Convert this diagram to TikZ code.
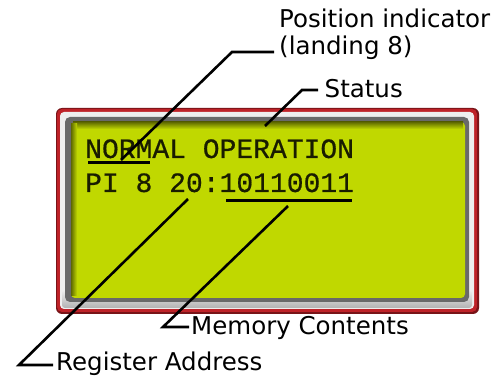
\documentclass[tikz,border=0pt]{standalone}
\usepackage{fontspec}
\setmainfont{DejaVu Sans}
\newfontfamily\lcdfont[FakeBold=0.6]{Liberation Mono}
\definecolor{framered}{RGB}{190,34,40}
\definecolor{framedark}{RGB}{120,20,24}
\definecolor{bevellight}{RGB}{238,238,238}
\definecolor{bevelgrey}{RGB}{105,105,105}
\definecolor{lcdgreen}{RGB}{192,216,0}
\definecolor{lcdolive}{RGB}{95,105,0}
\definecolor{lcdink}{RGB}{25,28,0}
\begin{document}
\begin{tikzpicture}[x=1pt,y=-1pt,
  lcdtext/.style={inner sep=0pt, anchor=base west, font=\lcdfont\fontsize{28}{28}\selectfont, text=lcdink},
  callout/.style={inner sep=0pt, anchor=base west, font=\fontsize{24.5}{27}\selectfont, text=black},
  leader/.style={line width=2.6pt, line join=miter, draw=black},
  uline/.style={line width=3pt, draw=black}]
\useasboundingbox (0,0) rectangle (499,377);
\fill[white] (0,0) rectangle (499,377);
% frame
\fill[framedark, rounded corners=6pt] (56,108) rectangle (479,314);
\fill[framered, rounded corners=5pt] (57,109) rectangle (477,312);
\fill[bevellight, rounded corners=4pt] (60,112) rectangle (474,309);
\shade[top color=bevellight, bottom color=gray!60, rounded corners=3pt] (62,290) rectangle (472,308);
\fill[bevelgrey, rounded corners=5pt] (65,117) rectangle (469,302);
\fill[lcdgreen, rounded corners=4pt] (71,122) rectangle (465,298);
\shade[top color=lcdolive, bottom color=lcdgreen] (73,122) rectangle (463,129);
\shade[left color=lcdolive, right color=lcdgreen] (71,124) rectangle (77,296);
% LCD text
\node[lcdtext] (line1) at (85,158) {NORMAL OPERATION};
\node[lcdtext] (line2) at (85,192) {PI 8 20:10110011};
% underlines
\coordinate (u1a) at (88,163);
\coordinate (u1b) at (150,163);
\coordinate (u2a) at (226,201);
\coordinate (u2b) at (352,201);
\draw[uline] (u1a) -- (u1b);
\draw[uline] (u2a) -- (u2b);
% labels
\node[callout] (pos1) at (279,28) {Position indicator};
\node[callout] (pos2) at (279,55) {(landing 8)};
\node[callout] (status) at (324.5,98) {Status};
\node[callout] (mem) at (191,335) {Memory Contents};
\node[callout] (reg) at (56,371) {Register Address};
% leaders
\coordinate (posS) at (121,160);
\coordinate (posB) at (232,52);
\coordinate (posE) at (274,52);
\draw[leader] (posS) -- (posB) -- (posE);
\coordinate (stS) at (265,126);
\coordinate (stB) at (302,90);
\coordinate (stE) at (318,90);
\draw[leader] (stS) -- (stB) -- (stE);
\coordinate (rgS) at (188,199);
\coordinate (rgB) at (19,365);
\coordinate (rgE) at (53,365);
\draw[leader] (rgS) -- (rgB) -- (rgE);
\coordinate (mmS) at (288,206);
\coordinate (mmB) at (163,327);
\coordinate (mmE) at (189,327);
\draw[leader] (mmS) -- (mmB) -- (mmE);
\end{tikzpicture}
\end{document}
